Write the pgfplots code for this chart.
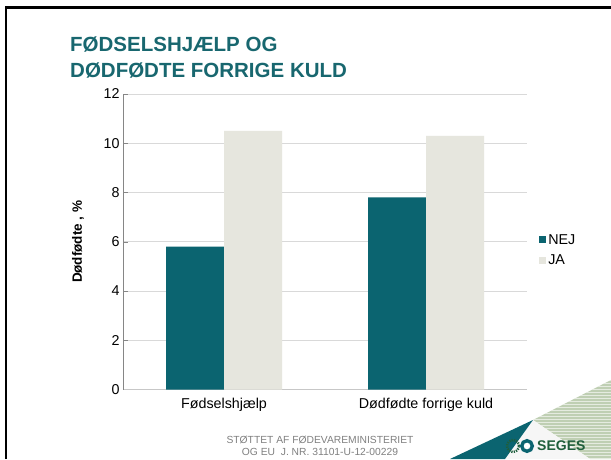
\documentclass[border=0pt]{standalone}
\usepackage{pgfplots}
\pgfplotsset{compat=1.18}
\usepackage{fontspec}
\setmainfont{Liberation Sans}
\definecolor{nej}{HTML}{0B6470}
\definecolor{ja}{HTML}{E6E6DE}
\definecolor{ttl}{HTML}{18676F}
\definecolor{gridc}{HTML}{D9D9D9}
\definecolor{axc}{HTML}{868686}
\definecolor{stripe}{HTML}{BFCFB3}
\definecolor{segesg}{HTML}{1F5E3C}
\begin{document}
\begin{tikzpicture}
\useasboundingbox (0pt,0pt) rectangle (611pt,459pt);
\fill[white] (0pt,0pt) rectangle (611pt,459pt);
% slide frame
\draw[black,line width=2.2pt] (6pt,0pt) -- (6pt,451.5pt) -- (611pt,451.5pt);
% title
\node[anchor=north west,align=left,text=ttl,font=\fontsize{20.5}{26}\selectfont\bfseries,inner sep=0pt] at (70pt,422pt) {FØDSELSHJÆLP OG\\DØDFØDTE FORRIGE KULD};
% decorative logo area
\fill[stripe] (533pt,39pt) -- (611pt,79pt) -- (611pt,0pt) -- (590pt,0pt) -- cycle;
\begin{scope}
\clip (533pt,39pt) -- (611pt,79pt) -- (611pt,0pt) -- (590pt,0pt) -- cycle;
\foreach \yy in {1,4,...,80} {\draw[white,line width=0.9pt,opacity=0.6] (530pt,\yy pt) -- (611pt,\yy pt);}
\end{scope}
\fill[white!93!gray] (505pt,0pt) -- (533pt,39pt) -- (590pt,0pt) -- cycle;
\fill[nej] (450pt,0pt) -- (533pt,39pt) -- (505pt,0pt) -- cycle;
\draw[segesg,line width=2.4pt,dash pattern=on 1.3pt off 1.1pt] (513pt,13pt) circle (6pt);
\fill[white] (527pt,13pt) circle (7pt);
\draw[nej,line width=3.4pt] (527pt,13pt) circle (5.3pt);
\node[anchor=west,text=segesg,font=\fontsize{14}{14}\selectfont\bfseries,inner sep=0pt] at (537pt,13pt) {SEGES};
% footer
\node[align=center,text=gray,font=\fontsize{10.3}{11.5}\selectfont,inner sep=0pt] at (320pt,13pt) {STØTTET AF FØDEVAREMINISTERIET\\OG EU\ \ J. NR. 31101-U-12-00229};
\begin{axis}[
  at={(123pt,69.5pt)}, anchor=south west,
  scale only axis, width=404pt, height=295.5pt,
  ybar=0pt, bar width=58pt,
  xmin=-0.5, xmax=1.5, ymin=0, ymax=12,
  ytick={0,2,...,12},
  xtick={0,1}, xticklabels={Fødselshjælp,Dødfødte forrige kuld},
  extra x ticks={0.5}, extra x tick labels={},
  extra x tick style={major tick length=5pt, tick style={axc}, grid=none},
  axis lines*=left,
  y axis line style={axc},
  x axis line style={gridc!80!gray},
  ymajorgrids, grid style={gridc, line width=0.9pt},
  major tick length=5pt,
  tick style={axc},
  x tick style={draw=none},
  tick label style={font=\fontsize{14.3}{15}\selectfont},
  /pgf/number format/assume math mode=true,
  ylabel={\bfseries Dødfødte , \%},
  ylabel style={font=\fontsize{13.5}{15}\selectfont, at={(axis description cs:-0.088,0.5)}, anchor=south},
  legend style={draw=none, fill=none, at={(1.03,0.472)}, anchor=west, font=\fontsize{14.3}{16}\selectfont, row sep=5pt, inner sep=0pt},
  legend image code/.code={\fill[#1] (0pt,-3.5pt) rectangle (7pt,3.5pt);},
  legend cell align=left,
  enlarge y limits=false,
  clip=false,
]
\addplot[fill=nej, draw=none] coordinates {(0,5.8) (1,7.8)};
\addplot[fill=ja, draw=none] coordinates {(0,10.5) (1,10.3)};
\legend{NEJ,JA}
\end{axis}
\end{tikzpicture}
\end{document}
